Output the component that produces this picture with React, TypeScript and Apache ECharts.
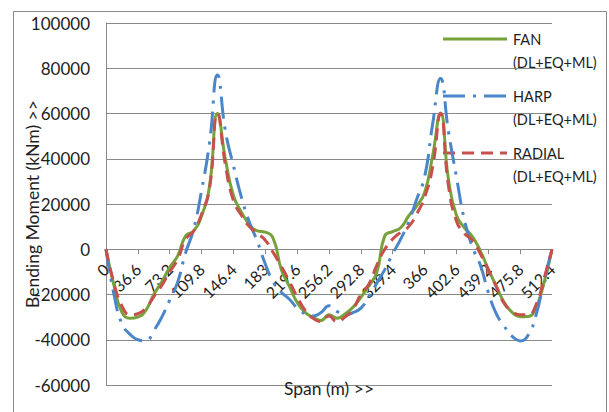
import { useEffect, useRef } from "react";
import * as echarts from "echarts";

// Span positions (m)
const spanX = [
  "0", "9.15", "18.3", "27.45", "36.6", "45.75", "54.9", "64.05", "73.2", "82.35",
  "91.5", "100.65", "109.8", "118.95", "128.1", "137.25", "146.4", "155.55", "164.7", "173.85",
  "183", "192.15", "201.3", "210.45", "219.6", "228.75", "237.9", "247.05", "256.2", "265.35",
  "274.5", "283.65", "292.8", "301.95", "311.1", "320.25", "329.4", "338.55", "347.7", "356.85",
  "366", "375.15", "384.3", "393.45", "402.6", "411.75", "420.9", "430.05", "439.2", "448.35",
  "457.5", "466.65", "475.8", "484.95", "494.1", "503.25", "512.4",
];

const seriesNames = ["FAN", "HARP", "RADIAL"];
const loadCase = "(DL+EQ+ML)";

// Bending moment (kNm)
const fanMoment = [
  0, -16000, -27900, -30500, -30000, -27000, -20000, -14400, -8000, -2900,
  5900, 8100, 14700, 28000, 60000, 39600, 23800, 16400, 11000, 8100,
  7600, 4700, -8800, -16200, -23500, -27900, -30100, -31500, -29000, -30500,
  -28600, -25700, -21300, -16200, -10300, 5900, 7800, 9500, 14700, 19100,
  25000, 41100, 60200, 30800, 15000, 9500, 5600, -700, -8800, -16200,
  -23500, -27900, -29800, -29700, -25700, -14700, 0,
];
const harpMoment = [
  0, -20000, -33000, -37500, -40000, -40500, -36000, -30000, -22500, -14500,
  -1500, 8800, 26000, 47000, 77000, 52000, 37000, 23000, 12000, 3500,
  -6500, -14500, -19000, -22000, -26000, -28500, -29500, -28000, -25000, -27500,
  -29000, -28000, -26000, -21000, -15000, -9000, -2000, 4500, 12000, 22000,
  32000, 55000, 75500, 52000, 32000, 13000, 1000, -7000, -19000, -28500,
  -34000, -38500, -40500, -38000, -29000, -14000, 0,
];
const radialMoment = [
  0, -15000, -25000, -29000, -28500, -26000, -21000, -16000, -10000, -4500,
  4500, 8000, 15500, 27000, 60000, 37000, 21500, 15000, 10000, 7000,
  4000, -1500, -7500, -14000, -21000, -27000, -30500, -32000, -29500, -32000,
  -30000, -26500, -20000, -15500, -7000, 0, 4500, 7500, 10000, 15500,
  23000, 36000, 60000, 28000, 12500, 7000, 4000, -2000, -9000, -16500,
  -24000, -27500, -29000, -29000, -24500, -13000, 0,
];

const yMin = -60000;
const yMax = 100000;
const yStep = 20000;

const colors = ["#77A23B", "#4A86C8", "#C8504C"];
const dashes: any[] = ["solid", [22, 8, 3, 8], [12, 7]];
const FONT = "Lato";
const GRAY = "#8a8a8a";
const TEXT = "#1e1e1e";

const GRID_TOP = 23;
const GRID_BOTTOM_Y = 385;

export default function App() {
  const ref = useRef<HTMLDivElement>(null);
  useEffect(() => {
    document.body.style.margin = "0";
    const chart = echarts.init(ref.current!, null, { renderer: "svg" });
    const data = [fanMoment, harpMoment, radialMoment];

    // distance from grid bottom to the zero line, so the category axis sits on zero
    const zeroOffset = ((0 - yMin) / (yMax - yMin)) * (GRID_BOTTOM_Y - GRID_TOP);

    const legendGraphics: any[] = [];
    seriesNames.forEach((name, i) => {
      const y = 39 + 57 * i;
      legendGraphics.push({
        type: "line",
        silent: true,
        shape: { x1: 443, y1: y, x2: 507, y2: y },
        style: {
          stroke: colors[i],
          lineWidth: 3,
          lineDash: Array.isArray(dashes[i]) ? dashes[i] : null,
        },
      });
      legendGraphics.push({
        type: "text",
        x: 513,
        y,
        style: { text: name, fontFamily: FONT, fontSize: 14.5, fill: TEXT, verticalAlign: "middle" },
      });
      legendGraphics.push({
        type: "text",
        x: 513,
        y: y + 23,
        style: { text: loadCase, fontFamily: FONT, fontSize: 14.5, fill: TEXT, verticalAlign: "middle" },
      });
    });

    chart.setOption({
      animation: false,
      grid: {
        left: 106,
        right: 57,
        top: GRID_TOP,
        bottom: 412 - GRID_BOTTOM_Y,
        containLabel: false,
        outerBoundsMode: "none",
      },
      xAxis: {
        type: "category",
        data: spanX,
        boundaryGap: false,
        offset: -zeroOffset,
        name: "Span (m) >>",
        nameLocation: "middle",
        nameGap: 130,
        nameMoveOverlap: false,
        nameTextStyle: { fontFamily: FONT, fontSize: 17.5, color: TEXT },
        axisLine: { onZero: false, lineStyle: { color: GRAY, width: 1 } },
        axisTick: { show: true, interval: 3, length: 5, lineStyle: { color: GRAY } },
        axisLabel: {
          interval: 3,
          rotate: 45,
          margin: 17,
          fontFamily: FONT,
          fontSize: 16,
          color: TEXT,
        },
        splitLine: { show: false },
      },
      yAxis: {
        type: "value",
        min: yMin,
        max: yMax,
        interval: yStep,
        name: "Bending Moment (kNm) >>",
        nameLocation: "middle",
        nameRotate: 90,
        nameGap: 65,
        nameMoveOverlap: false,
        nameTextStyle: { fontFamily: FONT, fontSize: 17.5, color: TEXT },
        axisLine: { show: true, lineStyle: { color: GRAY, width: 1 } },
        axisTick: { show: false },
        axisLabel: {
          margin: 16,
          fontFamily: FONT,
          fontSize: 17,
          color: TEXT,
          formatter: (v: number) => String(v),
        },
        splitLine: { show: true, lineStyle: { color: GRAY, width: 1 } },
      },
      series: seriesNames.map((name, i) => ({
        name: `${name} ${loadCase}`,
        type: "line",
        data: data[i],
        smooth: true,
        showSymbol: false,
        lineStyle: { color: colors[i], width: 3, type: dashes[i], cap: "butt" },
        itemStyle: { color: colors[i] },
        z: 2 + i,
      })),
      graphic: [
        {
          type: "rect",
          silent: true,
          z: -10,
          shape: { x: 13.5, y: 11.5, width: 593, height: 420 },
          style: { fill: "none", stroke: GRAY, lineWidth: 1 },
        },
        ...legendGraphics,
      ],
    });
    return () => chart.dispose();
  }, []);
  return <div ref={ref} style={{ width: 609, height: 412 }} />;
}
